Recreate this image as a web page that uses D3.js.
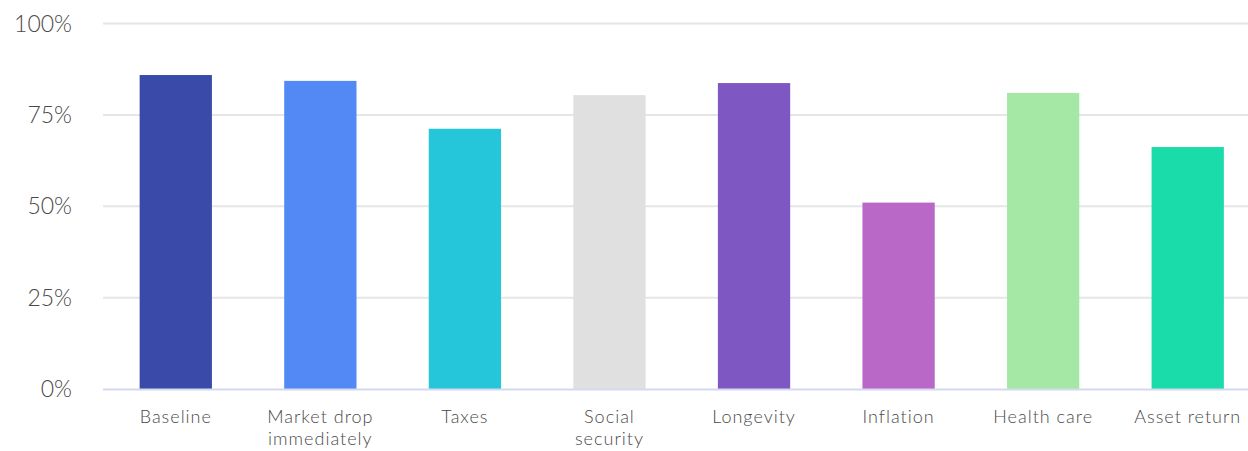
<!DOCTYPE html>
<html><head><meta charset="utf-8">
<script src="https://cdn.jsdelivr.net/npm/d3@7"></script>
<style>
body{margin:0;background:#fff;}
svg{display:block;font-family:Lato,"Noto Sans",sans-serif;}
</style></head>
<body><svg id="c" width="1248" height="451"></svg>
<script>
const categories = ["Baseline","Market drop immediately","Taxes","Social security","Longevity","Inflation","Health care","Asset return"];
const labelLines = [["Baseline"],["Market drop","immediately"],["Taxes"],["Social","security"],["Longevity"],["Inflation"],["Health care"],["Asset return"]];
const values = [85.9, 84.3, 71.2, 80.4, 83.7, 51.0, 81.0, 66.2];
const colors = ["#3a4aa9","#5289f5","#26c6da","#e0e0e0","#7e57c2","#ba68c8","#a5e8a5","#1adcaa"];
const yTicks = [0,25,50,75,100];

const svg = d3.select("#c");
const x = d3.scaleBand().domain(categories).range([103.5, 1260]).paddingInner(0.5).paddingOuter(0.25);
const y = d3.scaleLinear().domain([0,100]).range([389, 23.5]);

svg.append("g").selectAll("line").data(yTicks.filter(d=>d>0)).join("line")
  .attr("x1",103).attr("x2",1248).attr("y1",d=>y(d)).attr("y2",d=>y(d))
  .attr("stroke","#e6e6e6").attr("stroke-width",2);

svg.append("g").selectAll("text").data(yTicks).join("text")
  .attr("x",72).attr("y",d=>y(d)+8).attr("text-anchor","end")
  .attr("font-size",23).attr("font-weight",300).attr("fill","#4a4a4a").text(d=>d+"%");

svg.append("g").selectAll("rect").data(categories).join("rect")
  .attr("x",d=>x(d)).attr("width",x.bandwidth())
  .attr("y",(d,i)=>y(values[i])).attr("height",(d,i)=>y(0)-y(values[i]))
  .attr("fill",(d,i)=>colors[i]);

svg.append("line").attr("x1",103).attr("x2",1248).attr("y1",389.5).attr("y2",389.5)
  .attr("stroke","#d3d9ee").attr("stroke-width",2);

const xl = svg.append("g").selectAll("text").data(categories).join("text")
  .attr("x",d=>x(d)+x.bandwidth()/2).attr("y",423).attr("text-anchor","middle")
  .attr("font-size",18).attr("font-weight",300).attr("fill","#4a4a4a").attr("letter-spacing",1);
xl.each(function(d,i){
  const t=d3.select(this);
  labelLines[i].forEach((ln,j)=>{
    t.append("tspan").attr("x",x(d)+x.bandwidth()/2).attr("dy",j===0?0:22).text(ln);
  });
});
</script></body></html>
